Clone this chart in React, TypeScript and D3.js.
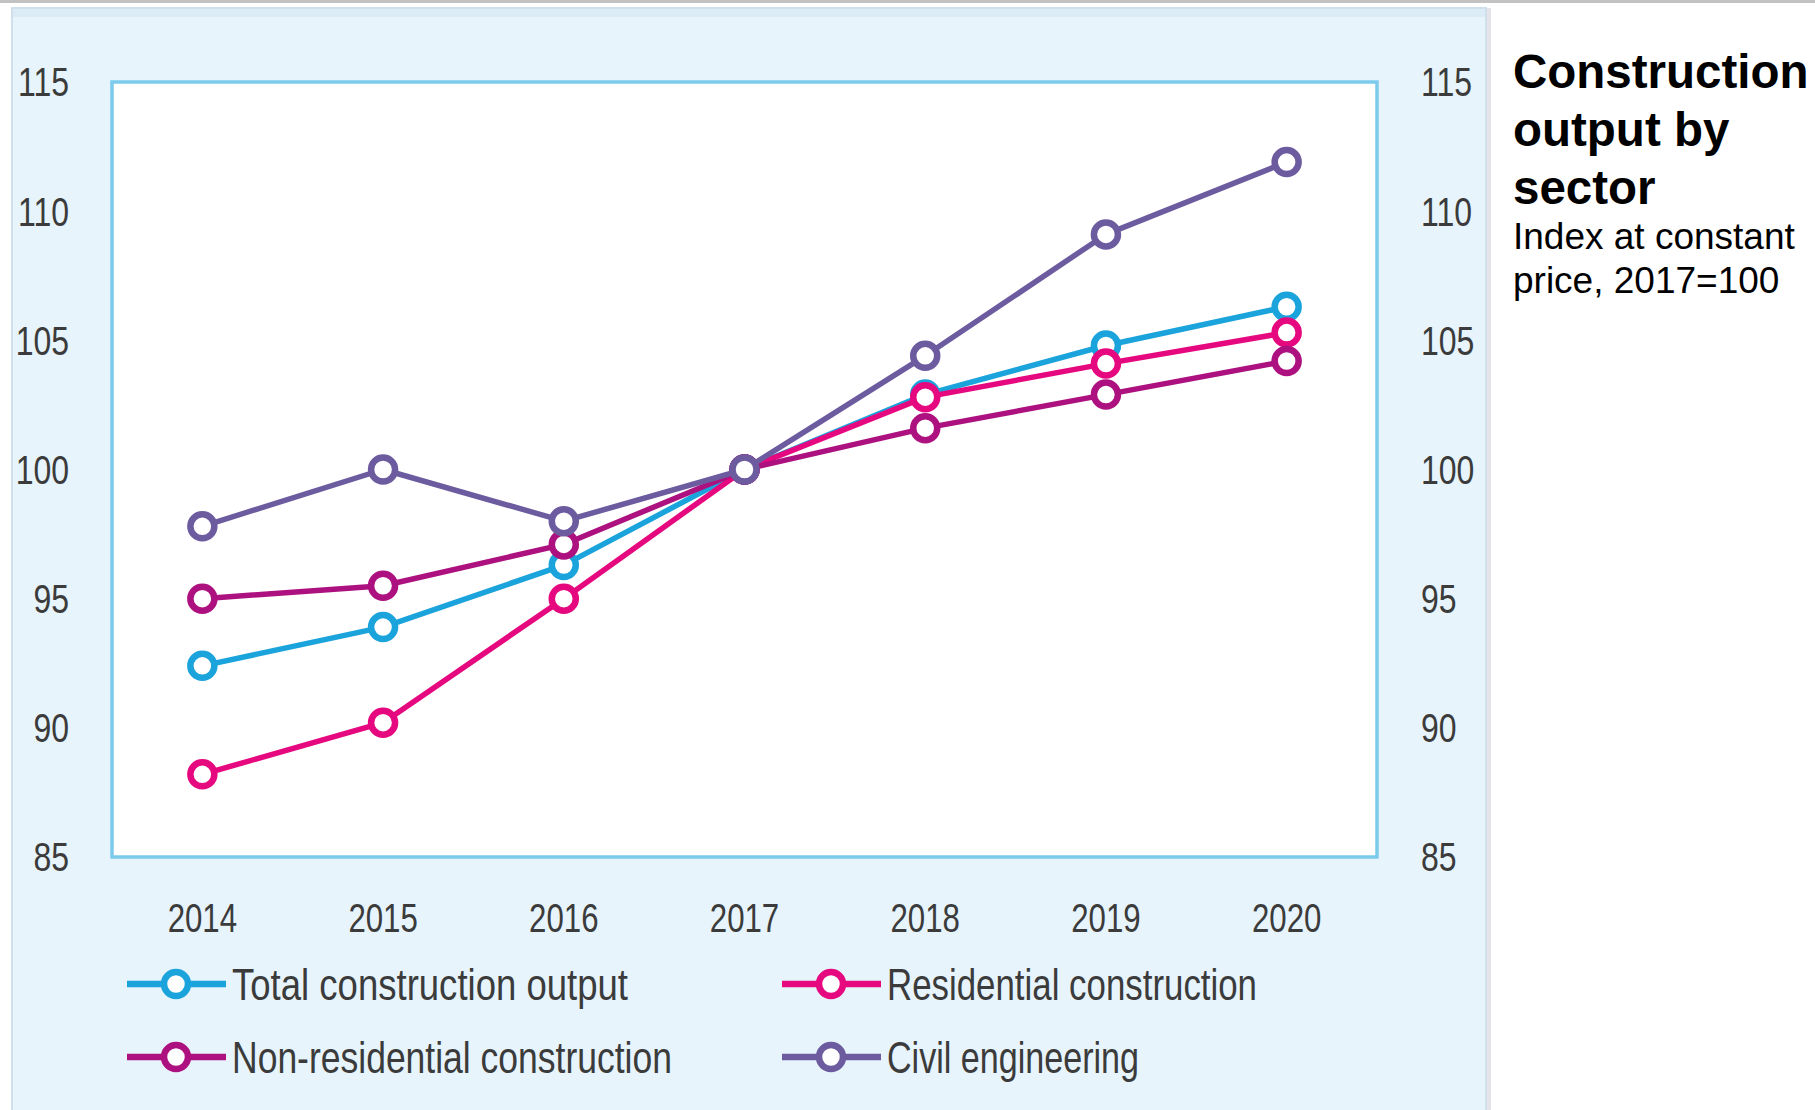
import React from "react";
import * as d3 from "d3";

const years = ["2014", "2015", "2016", "2017", "2018", "2019", "2020"];
const totalOutput = [92.4, 93.9, 96.3, 100, 102.9, 104.8, 106.3];
const residential = [88.2, 90.2, 95.0, 100, 102.8, 104.1, 105.3];
const nonResidential = [95.0, 95.5, 97.1, 100, 101.6, 102.9, 104.2];
const civilEngineering = [97.8, 100.0, 98.0, 100, 104.4, 109.1, 111.9];
const yTicks = [85, 90, 95, 100, 105, 110, 115];

const seriesNames = [
  "Total construction output",
  "Residential construction",
  "Non-residential construction",
  "Civil engineering",
];
const seriesColors = ["#1ba3dc", "#e6087f", "#ad117f", "#6c5c9f"];
const seriesValues = [totalOutput, residential, nonResidential, civilEngineering];

const W = 1815;
const H = 1110;
const frame = { left: 112, right: 1377, top: 82, bottom: 857 };

export default function App() {
  const x = d3
    .scalePoint<string>()
    .domain(years)
    .range([frame.left, frame.right])
    .padding(0.5);
  const y = d3.scaleLinear().domain([85, 115]).range([frame.bottom, frame.top]);
  const line = d3
    .line<number>()
    .x((_, i) => x(years[i]) as number)
    .y((d) => y(d));

  const tickFont = "'Liberation Sans', Arial, sans-serif";
  const sx = 0.78;

  const legendItems = [
    { col: 0, row: 0, width: 396 },
    { col: 1, row: 0, width: 370 },
    { col: 0, row: 1, width: 440 },
    { col: 1, row: 1, width: 252 },
  ];
  const legendCols = [127, 782];
  const legendRows = [984, 1057];

  return (
    <svg
      width={W}
      height={H}
      style={{ position: "absolute", left: 0, top: 0, display: "block" }}
    >
      <rect x={0} y={0} width={W} height={H} fill="#ffffff" />
      <rect x={0} y={0} width={W} height={3} fill="#c2c2c2" />
      {/* panel */}
      <rect x={1486} y={8} width={5} height={H} fill="#e4e4ea" />
      <rect x={12} y={8} width={1474} height={H} fill="#e7f4fc" stroke="#cfe0ec" strokeWidth={2} />
      <rect x={13} y={9} width={1472} height={8} fill="#d6e6f1" opacity={0.6} />
      {/* plot frame */}
      <rect
        x={frame.left}
        y={frame.top}
        width={frame.right - frame.left}
        height={frame.bottom - frame.top}
        fill="#ffffff"
        stroke="#7ccbec"
        strokeWidth={3.5}
      />
      {/* y tick labels */}
      {yTicks.map((t) => (
        <g key={t}>
          <text
            transform={`translate(69,${y(t)}) scale(${sx},1)`}
            dy="0.35em"
            textAnchor="end"
            fontFamily={tickFont}
            fontSize={41}
            fill="#3b3b3b"
          >
            {t}
          </text>
          <text
            transform={`translate(1421,${y(t)}) scale(${sx},1)`}
            dy="0.35em"
            textAnchor="start"
            fontFamily={tickFont}
            fontSize={41}
            fill="#3b3b3b"
          >
            {t}
          </text>
        </g>
      ))}
      {/* x tick labels */}
      {years.map((yr) => (
        <text
          key={yr}
          transform={`translate(${x(yr) as number},932) scale(${sx},1)`}
          textAnchor="middle"
          fontFamily={tickFont}
          fontSize={40}
          fill="#3b3b3b"
        >
          {yr}
        </text>
      ))}
      {/* series */}
      {seriesValues.map((vals, si) => (
        <g key={si}>
          <path
            d={line(vals) || ""}
            fill="none"
            stroke={seriesColors[si]}
            strokeWidth={5.5}
            strokeLinejoin="round"
          />
          {vals.map((v, i) => (
            <circle
              key={i}
              cx={x(years[i]) as number}
              cy={y(v)}
              r={12}
              fill="#ffffff"
              stroke={seriesColors[si]}
              strokeWidth={6.5}
            />
          ))}
        </g>
      ))}
      {/* legend */}
      {legendItems.map((it, i) => {
        const lx = legendCols[it.col];
        const ly = legendRows[it.row];
        return (
          <g key={i}>
            <line
              x1={lx}
              x2={lx + 99}
              y1={ly}
              y2={ly}
              stroke={seriesColors[i]}
              strokeWidth={6.5}
            />
            <circle
              cx={lx + 49}
              cy={ly}
              r={12}
              fill="#ffffff"
              stroke={seriesColors[i]}
              strokeWidth={6.5}
            />
            <text
              x={lx + 105}
              y={ly + 16}
              fontFamily={tickFont}
              fontSize={45}
              fill="#3b3b3b"
              textLength={it.width}
              lengthAdjust="spacingAndGlyphs"
            >
              {seriesNames[i]}
            </text>
          </g>
        );
      })}
      {/* title */}
      <g fontFamily="'Liberation Sans', Arial, sans-serif" fill="#000000">
        <text x={1513} y={88} fontSize={47.5} fontWeight="bold">Construction</text>
        <text x={1513} y={146} fontSize={47.5} fontWeight="bold">output by</text>
        <text x={1513} y={204} fontSize={47.5} fontWeight="bold">sector</text>
        <text x={1513} y={249} fontSize={37}>Index at constant</text>
        <text x={1513} y={293} fontSize={37}>price, 2017=100</text>
      </g>
    </svg>
  );
}
